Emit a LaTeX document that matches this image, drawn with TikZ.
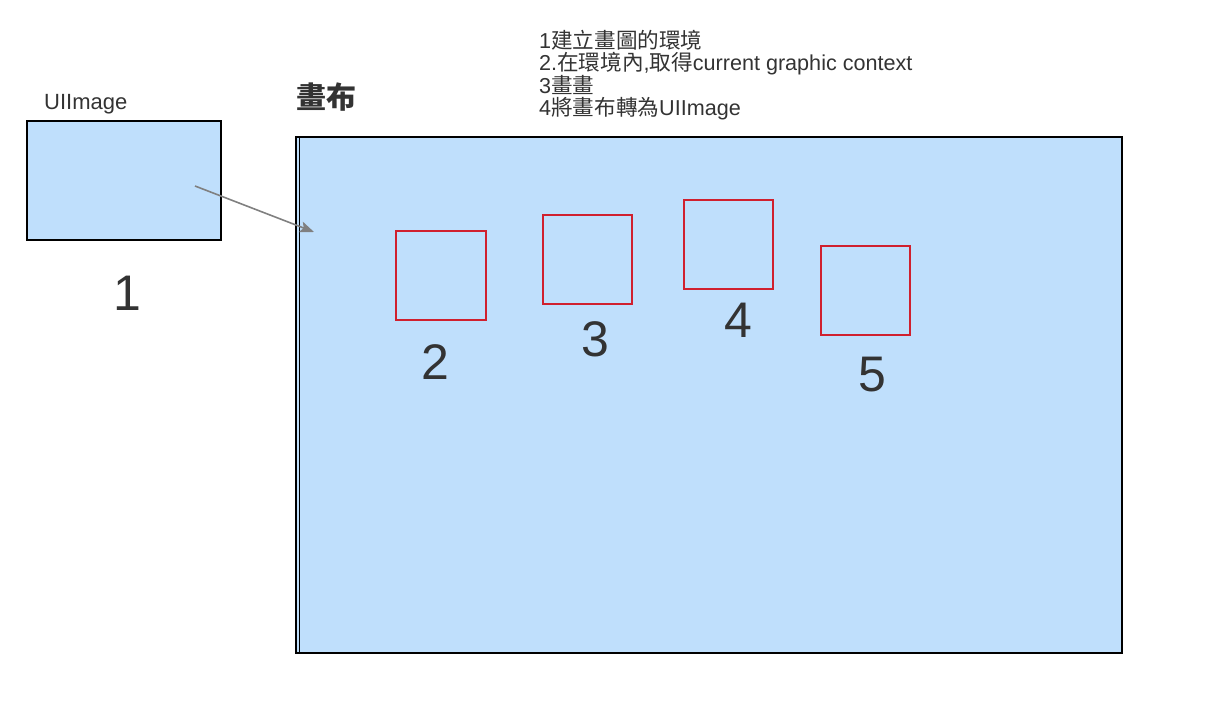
\documentclass[tikz,border=0pt]{standalone}
\usepackage{fontspec}
\setmainfont{Liberation Sans}
\newfontfamily\cjk{Noto Sans CJK TC}
\usetikzlibrary{arrows.meta}
\definecolor{fillblue}{HTML}{BFDFFC}
\definecolor{sqred}{HTML}{D0202E}
\definecolor{txt}{HTML}{333333}
\definecolor{arrowgray}{HTML}{808080}
\tikzset{
  panel/.style={draw=black, fill=fillblue, line width=1.7pt},
  redsq/.style={draw=sqred, line width=1.4pt},
  bignum/.style={text=txt, font=\fontsize{50}{56}\selectfont, inner sep=0pt},
  lbl/.style={text=txt, font=\fontsize{21.6}{25}\selectfont, inner sep=0pt, anchor=base west},
}
\begin{document}
\begin{tikzpicture}[x=1pt,y=-1pt]
\useasboundingbox (0,0) rectangle (1207,722);
% small UIImage box
\draw[panel] (27,121) rectangle (221,240);
\node[lbl, font=\fontsize{22}{26}\selectfont] (uilabel) at (44,110) {UIImage};
\node[bignum] (n1) at (127,293) {1};
% canvas
\draw[panel] (296,137) rectangle (1122,653);
\draw[black, line width=1.3pt] (299.5,137) -- (299.5,653);
\node[lbl, font=\fontsize{30}{34}\cjk\selectfont\bfseries] (title) at (296,109) {畫布};
% steps text
\node[lbl] (s1) at (539,48.5) {1{\cjk 建立畫圖的環境}};
\node[lbl] (s2) at (539,71) {2.{\cjk 在環境內},{\cjk 取得}current graphic context};
\node[lbl] (s3) at (539,93.5) {3{\cjk 畫畫}};
\node[lbl] (s4) at (539,116) {4{\cjk 將畫布轉為}UIImage};
% arrow
\coordinate (a0) at (195,186);
\coordinate (a1) at (314,232);
\draw[arrowgray, line width=1.6pt, -{Stealth[length=14pt,width=11pt,inset=3pt]}] (a0) -- (a1);
% red squares
\draw[redsq] (396,231) rectangle (486,320);
\draw[redsq] (543,215) rectangle (632,304);
\draw[redsq] (684,200) rectangle (773,289);
\draw[redsq] (821,246) rectangle (910,335);
\node[bignum] (n2) at (435,362) {2};
\node[bignum] (n3) at (595,339) {3};
\node[bignum] (n4) at (738,320) {4};
\node[bignum] (n5) at (872,375) {5};
\end{tikzpicture}
\end{document}
